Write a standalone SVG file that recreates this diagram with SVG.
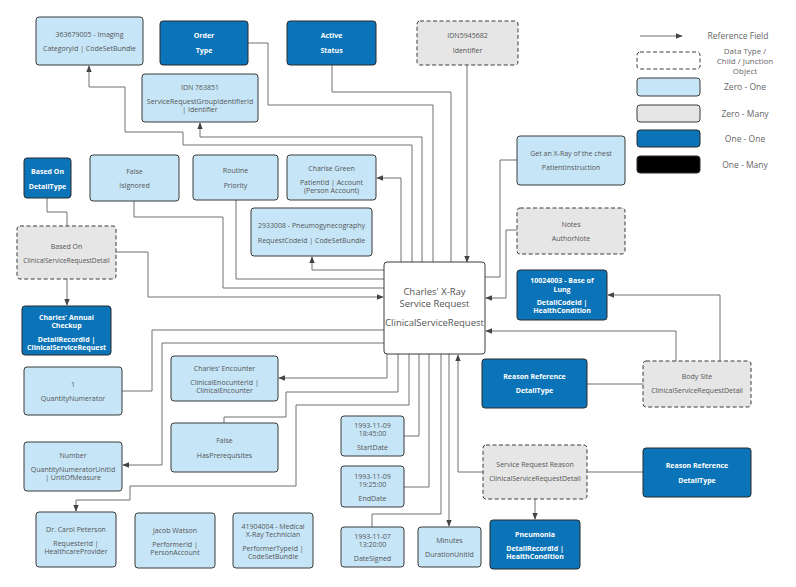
<svg xmlns="http://www.w3.org/2000/svg" width="796" height="587" viewBox="0 0 796 587">
<style>
.lb{fill:#c6e6f8;stroke:#3a3a3a;stroke-width:1}
.gr{fill:#e6e6e6;stroke:#3a3a3a;stroke-width:1;stroke-dasharray:4 2.5}
.db{fill:#0b74b8;stroke:#2a2a2a;stroke-width:1}
.bk{fill:#000;stroke:#2a2a2a}
.wh{fill:#fff;stroke:#3a3a3a;stroke-width:1}
text{font-family:"Open Sans","Liberation Sans",sans-serif;font-size:7px;fill:#555;text-anchor:middle}
.w{fill:#fff;font-weight:bold}
.c{font-size:9.5px}
.lg{font-size:8.5px;fill:#666}
#connectors path{fill:none;stroke:#707070;stroke-width:1}
</style>
<defs><marker id="a" viewBox="0 0 10 10" refX="9" refY="5" markerWidth="7" markerHeight="7" orient="auto"><path d="M0,1 L10,5 L0,9 z" fill="#444"/></marker></defs>
<rect width="796" height="587" fill="#fff"/>
<g id="connectors">
<path d="M412,262V145H183V132H125V87H89V66" marker-end="url(#a)"/>
<path d="M248,43H268V105H433V262"/>
<path d="M332,65V92H451V262"/>
<path d="M422,262V137H200V123" marker-end="url(#a)"/>
<path d="M467,65V262" marker-end="url(#a)"/>
<path d="M401,262V178H377" marker-end="url(#a)"/>
<path d="M384,270H312V257" marker-end="url(#a)"/>
<path d="M236,200V279H384"/>
<path d="M134,201V217H223V288H384"/>
<path d="M116,252H148V297H383" marker-end="url(#a)"/>
<path d="M47,198V212H67V226"/>
<path d="M67,279V305" marker-end="url(#a)"/>
<path d="M122,391H152V330H384"/>
<path d="M384,343H162V465H123" marker-end="url(#a)"/>
<path d="M387,354V378H279" marker-end="url(#a)"/>
<path d="M224,423V417H286V392H398V354"/>
<path d="M409,354V405H296V486H130V500H76V511" marker-end="url(#a)"/>
<path d="M404,436H419V354"/>
<path d="M404,487H429V354"/>
<path d="M372,527V514H441V354"/>
<path d="M449,354V526" marker-end="url(#a)"/>
<path d="M483,472H458V355" marker-end="url(#a)"/>
<path d="M587,472H643"/>
<path d="M535,499V519" marker-end="url(#a)"/>
<path d="M587,384H643"/>
<path d="M676,361V331H486" marker-end="url(#a)"/>
<path d="M720,361V295H608" marker-end="url(#a)"/>
<path d="M485,277H500V160H517"/>
<path d="M517,230H506V298H486" marker-end="url(#a)"/>
<path d="M640,36H682" marker-end="url(#a)"/>
</g>
<g id="center"><rect class="wh" x="384" y="262" width="101" height="92" rx="3"/><text class="c" x="434.5" y="295">Charles'  X-Ray</text><text class="c" x="434.5" y="306.5">Service Request</text><text class="c" x="434.5" y="326">ClinicalServiceRequest</text></g>
<g id="imaging"><rect class="lb" x="36" y="17" width="107" height="48" rx="3"/><text x="89.5" y="37">363679005 - Imaging</text><text x="89.5" y="51">CategoryId | CodeSetBundle</text></g>
<g id="ordertype"><rect class="db" x="160" y="21" width="88" height="44" rx="3"/><text class="w" x="204" y="38">Order</text><text class="w" x="204" y="53">Type</text></g>
<g id="activestatus"><rect class="db" x="287" y="21" width="89" height="44" rx="3"/><text class="w" x="331.5" y="38">Active</text><text class="w" x="331.5" y="53">Status</text></g>
<g id="idn763851"><rect class="lb" x="142" y="74" width="116" height="48" rx="3"/><text x="200" y="90">IDN 763851</text><text x="200" y="104">ServiceRequestGroupIdentifierId</text><text x="200" y="112">| Identifier</text></g>
<g id="idn5945682"><rect class="gr" x="417" y="21" width="101" height="44" rx="3"/><text x="467.5" y="38">IDN5945682</text><text x="467.5" y="53">Identifier</text></g>
<g id="basedontype"><rect class="db" x="24" y="158" width="47" height="40" rx="3"/><text class="w" x="47.5" y="174">Based On</text><text class="w" x="47.5" y="189">DetailType</text></g>
<g id="isignored"><rect class="lb" x="90" y="155" width="89" height="46" rx="3"/><text x="134.5" y="174">False</text><text x="134.5" y="188">IsIgnored</text></g>
<g id="priority"><rect class="lb" x="193" y="155" width="85" height="45" rx="3"/><text x="235.5" y="173">Routine</text><text x="235.5" y="188">Priority</text></g>
<g id="patient"><rect class="lb" x="287" y="155" width="89" height="45" rx="3"/><text x="331.5" y="171">Charlse Green</text><text x="331.5" y="185">PatientId | Account</text><text x="331.5" y="193">(Person Account)</text></g>
<g id="requestcode"><rect class="lb" x="251" y="208" width="121" height="48" rx="3"/><text x="311.5" y="228">2933008 - Pneumogynecography</text><text x="311.5" y="243">RequestCodeId | CodeSetBundle</text></g>
<g id="basedon"><rect class="gr" x="17" y="226" width="99" height="53" rx="3"/><text x="66.5" y="249">Based On</text><text x="66.5" y="263" style="font-size:6.6px">ClinicalServiceRequestDetail</text></g>
<g id="instruction"><rect class="lb" x="517" y="136" width="108" height="49" rx="3"/><text x="571" y="156">Get an X-Ray of the chest</text><text x="571" y="170">PatientInstruction</text></g>
<g id="notes"><rect class="gr" x="517" y="208" width="108" height="46" rx="3"/><text x="571" y="227">Notes</text><text x="571" y="241">AuthorNote</text></g>
<g id="bodysitecode"><rect class="db" x="517" y="270" width="90" height="50" rx="3"/><text class="w" x="562" y="283">10024003 - Base of</text><text class="w" x="562" y="291.5">Lung</text><text class="w" x="562" y="305">DetailCodeId |</text><text class="w" x="562" y="313">HealthCondition</text></g>
<g id="checkup"><rect class="db" x="22" y="306" width="89" height="49" rx="3"/><text class="w" x="66.5" y="320">Charles' Annual</text><text class="w" x="66.5" y="328">Checkup</text><text class="w" x="66.5" y="342">DetailRecordId |</text><text class="w" x="66.5" y="350">ClinicalServiceRequest</text></g>
<g id="qty"><rect class="lb" x="24" y="367" width="98" height="48" rx="3"/><text x="73" y="387">1</text><text x="73" y="401">QuantityNumerator</text></g>
<g id="encounter"><rect class="lb" x="171" y="356" width="107" height="45" rx="3"/><text x="224.5" y="371">Charles' Encounter</text><text x="224.5" y="385">ClinicalEnocunterId |</text><text x="224.5" y="393">ClinicalEncounter</text></g>
<g id="reasonref1"><rect class="db" x="482" y="359" width="105" height="49" rx="3"/><text class="w" x="534.5" y="379">Reason Reference</text><text class="w" x="534.5" y="393">DetailType</text></g>
<g id="bodysite"><rect class="gr" x="643" y="361" width="108" height="46" rx="3"/><text x="697" y="379">Body Site</text><text x="697" y="393">ClinicalServiceRequestDetail</text></g>
<g id="number"><rect class="lb" x="24" y="442" width="98" height="49" rx="3"/><text x="73" y="458">Number</text><text x="73" y="472">QuantityNumeratorUnitId</text><text x="73" y="480">| UnitOfMeasure</text></g>
<g id="prereq"><rect class="lb" x="171" y="423" width="107" height="49" rx="3"/><text x="224.5" y="443">False</text><text x="224.5" y="458">HasPrerequisites</text></g>
<g id="startdate"><rect class="lb" x="341" y="416" width="63" height="40" rx="3"/><text x="372.5" y="428">1993-11-09</text><text x="372.5" y="436">18:45:00</text><text x="372.5" y="450">StartDate</text></g>
<g id="enddate"><rect class="lb" x="341" y="466" width="63" height="41" rx="3"/><text x="372.5" y="479">1993-11-09</text><text x="372.5" y="487">19:25:00</text><text x="372.5" y="501">EndDate</text></g>
<g id="srreason"><rect class="gr" x="483" y="445" width="104" height="54" rx="3"/><text x="535" y="467">Service Request Reason</text><text x="535" y="481">ClinicalServiceRequestDetail</text></g>
<g id="reasonref2"><rect class="db" x="643" y="448" width="108" height="49" rx="3"/><text class="w" x="697" y="468">Reason Reference</text><text class="w" x="697" y="483">DetailType</text></g>
<g id="requester"><rect class="lb" x="36" y="512" width="80" height="55" rx="3"/><text x="76" y="532">Dr. Carol Peterson</text><text x="76" y="546">RequesterId |</text><text x="76" y="554">HealthcareProvider</text></g>
<g id="performer"><rect class="lb" x="135" y="513" width="80" height="55" rx="3"/><text x="175" y="533">Jacob Watson</text><text x="175" y="547">PerformerId |</text><text x="175" y="555">PersonAccount</text></g>
<g id="performertype"><rect class="lb" x="233" y="513" width="80" height="55" rx="3"/><text x="273" y="529">41904004 - Medical</text><text x="273" y="537">X-Ray Technician</text><text x="273" y="551">PerformerTypeId |</text><text x="273" y="559">CodeSetBundle</text></g>
<g id="datesigned"><rect class="lb" x="341" y="527" width="63" height="40" rx="3"/><text x="372.5" y="539">1993-11-07</text><text x="372.5" y="547">13:20:00</text><text x="372.5" y="561">DateSigned</text></g>
<g id="minutes"><rect class="lb" x="418" y="527" width="63" height="40" rx="3"/><text x="449.5" y="543">Minutes</text><text x="449.5" y="557">DurationUnitId</text></g>
<g id="pneumonia"><rect class="db" x="490" y="520" width="90" height="49" rx="3"/><text class="w" x="535" y="537">Pneumonia</text><text class="w" x="535" y="551">DetailRecordId |</text><text class="w" x="535" y="559">HealthCondition</text></g>
<g id="legend">
<text class="lg" x="738" y="39">Reference Field</text>
<rect class="gr" x="637" y="52" width="63" height="17" rx="3" style="fill:#fff"/>
<text class="lg" x="745" y="54" style="font-size:8px">Data Type /</text><text class="lg" x="745" y="64" style="font-size:8px">Child / Junction</text><text class="lg" x="745" y="74" style="font-size:8px">Object</text>
<rect class="lb" x="637" y="78" width="63" height="18" rx="3"/><text class="lg" x="745" y="90">Zero - One</text>
<rect class="lb" x="637" y="105" width="63" height="17" rx="3" style="fill:#e6e6e6"/><text class="lg" x="745" y="117">Zero - Many</text>
<rect class="db" x="637" y="130" width="63" height="17" rx="3"/><text class="lg" x="745" y="142">One - One</text>
<rect class="bk" x="637" y="156" width="63" height="17" rx="3"/><text class="lg" x="745" y="168">One - Many</text>
</g>
</svg>
